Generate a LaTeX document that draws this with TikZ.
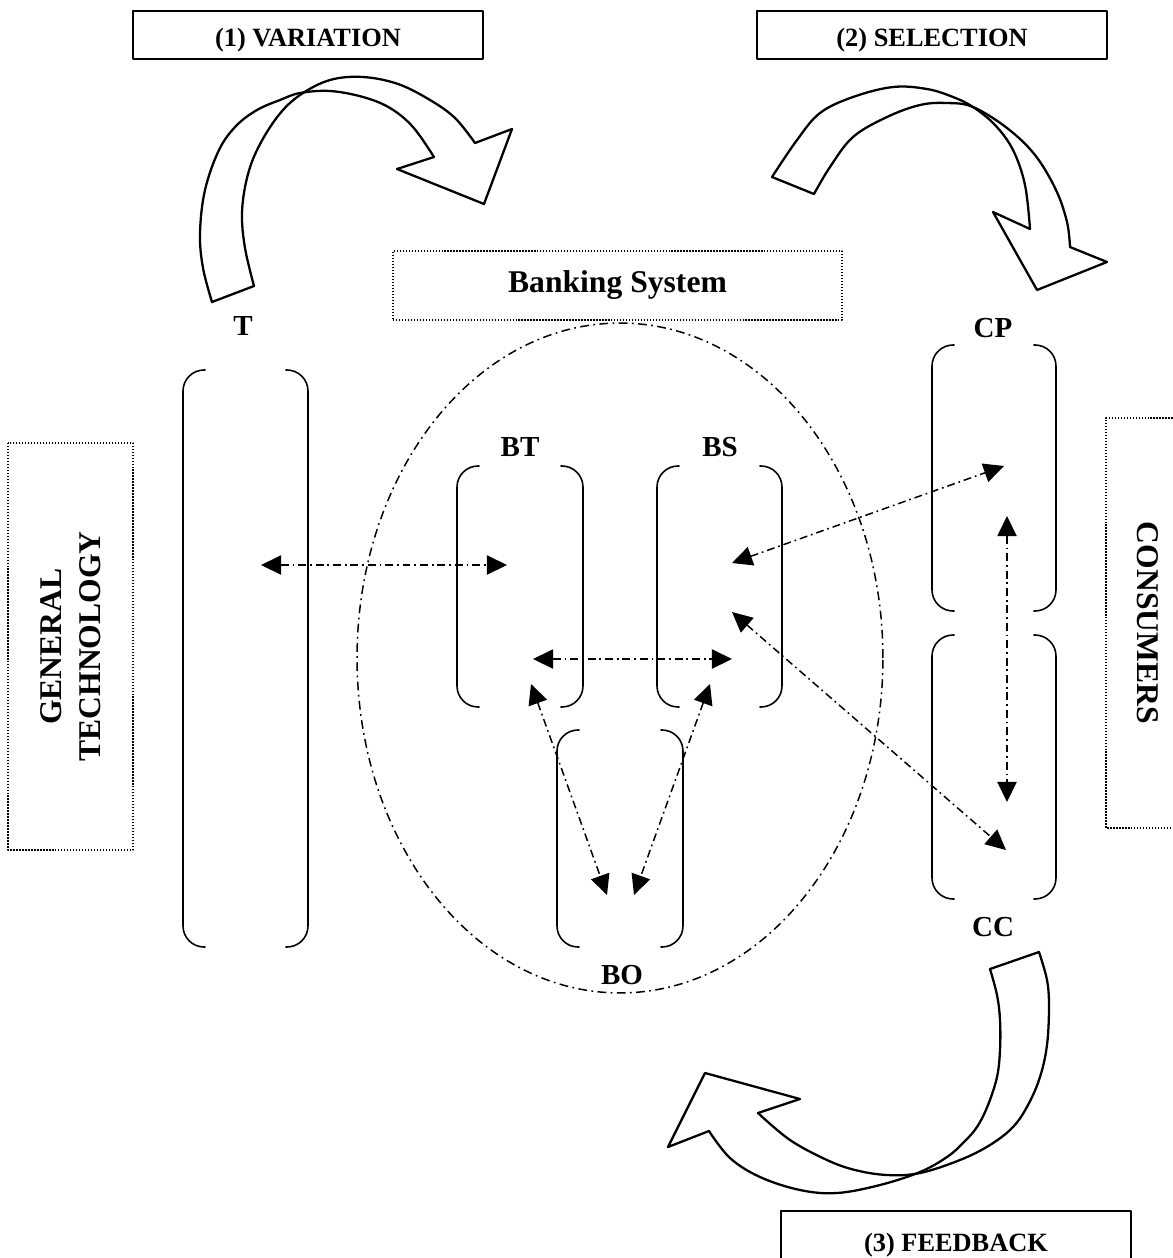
\documentclass[tikz,border=0pt]{standalone}
\usepackage{fontspec}
\setmainfont{Liberation Serif}
\usetikzlibrary{arrows.meta}

\begin{document}
\begin{tikzpicture}[
		x=0.02cm,
		y=-0.02cm,
		line cap=round,
		line join=round,
		>={Triangle[length=11.5pt,width=11pt]},
		stagebox/.style={draw, line width=1.1pt, minimum width=7cm, minimum height=0.96cm, inner sep=0pt,
			text height=13.3pt, text depth=0pt, font=\fontsize{15}{18}\selectfont\bfseries},
		dotbox/.style={draw, line width=0.8pt, line cap=butt, dash pattern=on 0.8pt off 0.9pt, inner sep=0pt, align=center, font=\fontsize{18}{22}\selectfont\bfseries},
		tag/.style={inner sep=1pt, font=\fontsize{16.5}{19}\selectfont\bfseries},
		paren/.style={line width=0.9pt, rounded corners=12pt},
		link/.style={<->, line width=0.85pt, line cap=butt, dash pattern=on 4.5pt off 2.2pt on 1pt off 2.2pt},
		orbit/.style={line width=0.85pt, line cap=butt, dash pattern=on 5pt off 2.5pt on 1pt off 2.5pt},
		ribbon/.style={line width=1.3pt}
		]
		
		\useasboundingbox (0,0) rectangle (1173,1258);
		\clip (0,0) rectangle (1173,1258);
		
		%------------------------------------------------------------------
		% Stage boxes and side boxes
		%------------------------------------------------------------------
		\node[stagebox] (variation) at (308,35)   {(1) VARIATION};
		\node[stagebox] (selection) at (932,35)   {(2) SELECTION};
		\node[stagebox, minimum height=1.16cm] (feedback) at (956,1240) {(3) FEEDBACK};
		
		\node[dotbox, minimum width=8.98cm, minimum height=1.38cm] (banking) at (617.5,285.5) {Banking System};
		\node[dotbox, rotate=90, minimum width=8.14cm, minimum height=2.5cm] (gentech) at (70.5,646.5) {GENERAL\\TECHNOLOGY};
		\node[dotbox, rotate=-90, minimum width=8.2cm, minimum height=1.68cm] (consumers) at (1148,623) {CONSUMERS};
		
		%------------------------------------------------------------------
		% Banking system boundary
		%------------------------------------------------------------------
		\draw[orbit] (620,658) ellipse [x radius=5.26cm, y radius=6.7cm];
		
		%------------------------------------------------------------------
		% Brackets (x left / y top / x right / y bottom)
		%------------------------------------------------------------------
		\foreach \xa/\ya/\xb/\yb in {183/370/308/947, 457/466/583/707, 657/466/782/707,
			557/730/683/947, 932/345/1056/611, 932/635/1056/899}{
			\draw[paren] (\xa+22,\ya) -- (\xa,\ya) -- (\xa,\yb) -- (\xa+22,\yb);
			\draw[paren] (\xb-22,\ya) -- (\xb,\ya) -- (\xb,\yb) -- (\xb-22,\yb);
		}
		
		\node[tag] (T)  at (243,326) {T};
		\node[tag] (BT) at (520,447) {BT};
		\node[tag] (BS) at (720,447) {BS};
		\node[tag] (BO) at (622,975) {BO};
		\node[tag] (CP) at (993,328) {CP};
		\node[tag] (CC) at (993,927) {CC};
		
		%------------------------------------------------------------------
		% Link end points
		%------------------------------------------------------------------
		\coordinate (tA)  at ( 261,565);
		\coordinate (btA) at ( 507,565);
		\coordinate (btB) at ( 533,659);
		\coordinate (bsB) at ( 732,659);
		\coordinate (btC) at ( 531,684);
		\coordinate (boA) at ( 607,895);
		\coordinate (bsC) at ( 710,684);
		\coordinate (boB) at ( 634,895);
		\coordinate (bsA) at ( 732,563);
		\coordinate (cpA) at (1004,466);
		\coordinate (bsD) at ( 732,612);
		\coordinate (ccA) at (1006,850);
		\coordinate (cpB) at (1007,516);
		\coordinate (ccB) at (1007,802);
		
		\draw[link] (tA)  -- (btA);
		\draw[link] (btB) -- (bsB);
		\draw[link] (btC) -- (boA);
		\draw[link] (bsC) -- (boB);
		\draw[link] (bsA) -- (cpA);
		\draw[link] (bsD) -- (ccA);
		\draw[link] (cpB) -- (ccB);
		
		%------------------------------------------------------------------
		% Curved block arrows
		%------------------------------------------------------------------
		% (1) variation: T up and over to the banking system
		\draw[ribbon] (212,302) -- (254,286);
		\draw[ribbon] plot[smooth, tension=0.6] coordinates {(212,302) (203,268) (200,233) (205,190)
			(219,150) (236,126) (257,110) (280,100) (300,93) (330,91) (363,97) (390,108) (413,127) (434,157)};
		\draw[ribbon] plot[smooth, tension=0.6] coordinates {(254,286) (245,248) (242,213) (247,178)
			(258,148) (278,116) (300,95) (330,80) (363,77) (398,84) (430,100) (455,118) (475,143)};
		\draw[ribbon] (434,157) -- (397,169) -- (484,204) -- (512,129) -- (475,143);
		
		% (2) selection: banking system over to CP
		\draw[ribbon] (772,177) -- (814,194);
		\draw[ribbon] plot[smooth, tension=0.6] coordinates {(772,177) (797,140) (820,113) (853,97)
			(893,87) (927,89) (953,97) (973,107) (995,125) (1013,150) (1025,185) (1030,229)};
		\draw[ribbon] plot[smooth, tension=0.6] coordinates {(814,194) (830,167) (853,137) (887,117)
			(920,105) (947,103) (973,107) (1007,128) (1035,155) (1056,190) (1067,222) (1070,247)};
		\draw[ribbon] (1030,229) -- (993,212) -- (1037,290) -- (1107,262) -- (1070,247);
		
		% (3) feedback: CC back round to the banking system
		\draw[ribbon] (990,969) -- (1039,952);
		\draw[ribbon] plot[smooth, tension=0.6] coordinates {(1039,952) (1047,980) (1049,1007) (1047,1045)
			(1040,1077) (1028,1105) (1013,1127) (990,1145) (960,1160) (920,1173) (887,1175) (855,1170)
			(827,1160) (790,1140) (758,1113)};
		\draw[ribbon] plot[smooth, tension=0.6] coordinates {(990,969) (997,995) (1000,1020) (1000,1050)
			(997,1077) (988,1105) (977,1127) (963,1143) (947,1157) (920,1172) (880,1185) (837,1193)
			(800,1190) (760,1177) (730,1158) (709,1131)};
		\draw[ribbon] (758,1113) -- (800,1099) -- (705,1073) -- (668,1147) -- (709,1131);
		
	\end{tikzpicture}
\end{document}
